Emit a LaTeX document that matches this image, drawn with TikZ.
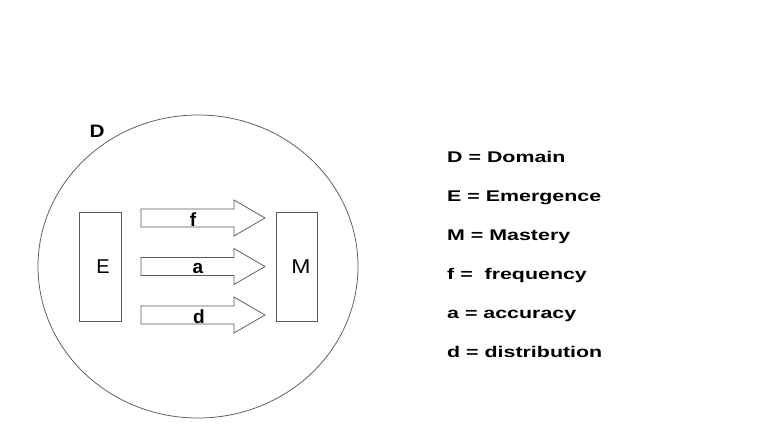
\documentclass[tikz,border=0pt]{standalone}
\usepackage{fontspec}
\setmainfont{Liberation Sans}
\usetikzlibrary{shapes.geometric}
\begin{document}
\begin{tikzpicture}[x=1pt,y=-1pt,
  outl/.style={draw=black!65,line width=0.75pt},
  boxst/.style={outl,minimum width=42pt,minimum height=109pt,inner sep=0pt},
  blockarrow/.style={outl,fill=white},
  lbl/.style={font=\bfseries\fontsize{19}{20}\selectfont,inner sep=0pt},
  leg/.style={anchor=base west,inner sep=0pt,font=\bfseries\fontsize{15.5}{17}\selectfont}]
\useasboundingbox (0,0) rectangle (782,445);
\fill[white] (0,0) rectangle (782,445);
% domain
\node[outl,ellipse,minimum width=320pt,minimum height=303pt,inner sep=0pt] (dom) at (198,266.5) {};
\node[font=\bfseries\fontsize{18}{20}\selectfont,inner sep=0pt] (dlab) at (97,131) {\scalebox{1.15}[1]{D}};
% boxes
\node[boxst] (E) at (100,266.5) {};
\node[font=\fontsize{20}{22}\selectfont,inner sep=0pt] (Elab) at (103,266.5) {E};
\node[boxst,minimum width=41pt] (M) at (296.5,266.5) {};
\node[font=\fontsize{20}{22}\selectfont,inner sep=0pt] (Mlab) at (301,266.5) {\scalebox{1.15}[1]{M}};
% block arrows
\foreach \yc/\nm in {218/f,266.5/a,315/d}{
  \draw[blockarrow] (141,\yc-9) -- (234,\yc-9) -- (234,\yc-18) -- (265,\yc) -- (234,\yc+18) -- (234,\yc+9) -- (141,\yc+9) -- cycle;
}
\node[lbl] (fl) at (193,220) {f};
\node[lbl] (al) at (198,268) {a};
\node[lbl] (dl) at (199,317) {d};
% legend
\node[leg] (l1) at (447,162.5) {\scalebox{1.38}[1]{D = Domain}};
\node[leg] (l2) at (447,201) {\scalebox{1.38}[1]{E = Emergence}};
\node[leg] (l3) at (447,240) {\scalebox{1.38}[1]{M = Mastery}};
\node[leg] (l4) at (447,279) {\scalebox{1.38}[1]{f =\ \ frequency}};
\node[leg] (l5) at (447,318) {\scalebox{1.38}[1]{a = accuracy}};
\node[leg] (l6) at (447,357) {\scalebox{1.38}[1]{d = distribution}};
\end{tikzpicture}
\end{document}
